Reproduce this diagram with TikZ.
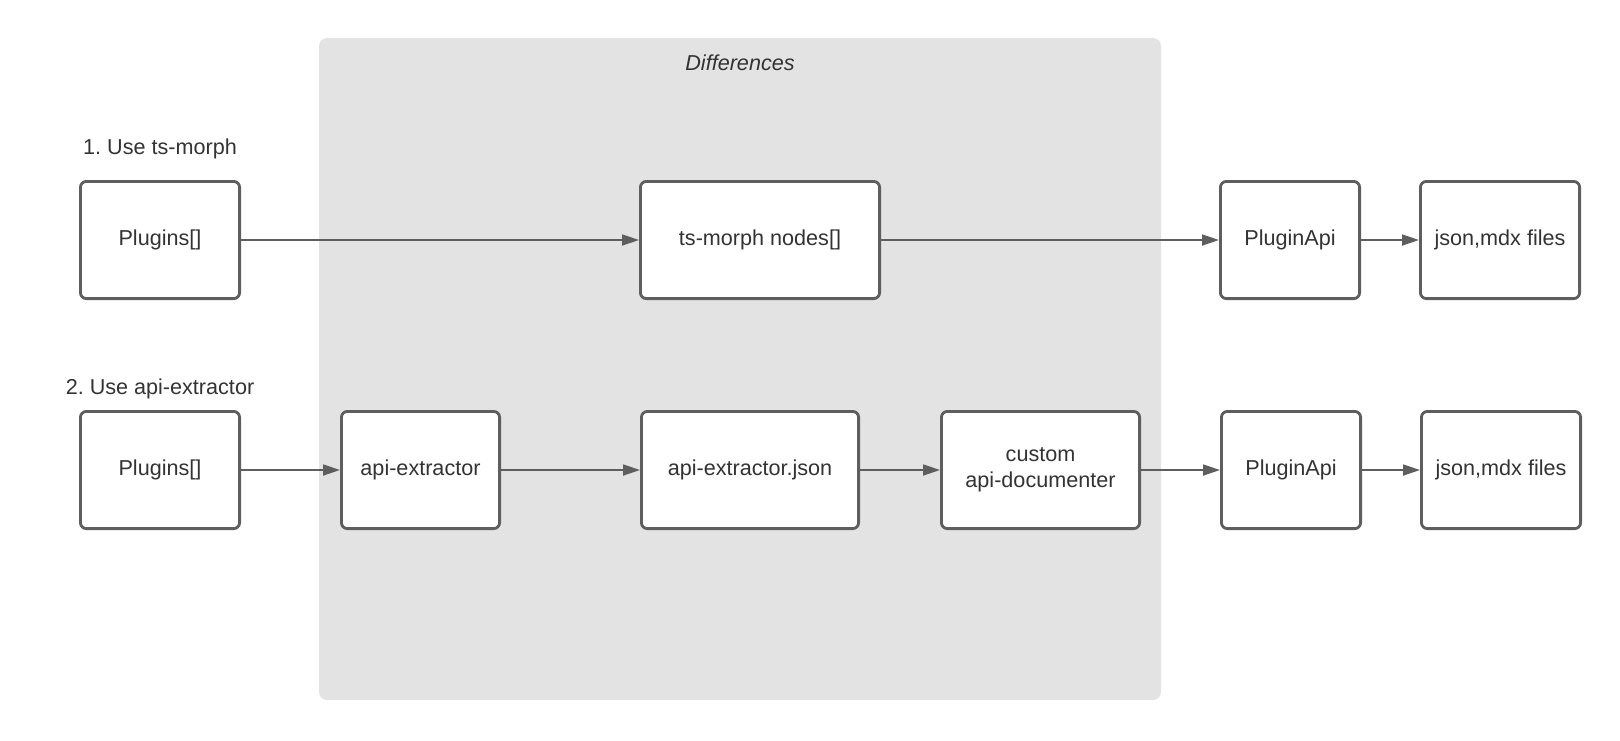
\documentclass[tikz,border=0pt]{standalone}
\usepackage{fontspec}
\setmainfont{Liberation Sans}
\usepackage{tikz}
\usetikzlibrary{arrows.meta,positioning}
\definecolor{BoxLine}{HTML}{5E5E5E}
\definecolor{AreaGray}{HTML}{E3E3E3}
\definecolor{TextDark}{HTML}{333333}
\frenchspacing

\begin{document}
\begin{tikzpicture}[node distance=30pt,>={Triangle[length=8.5pt,width=5.5pt]},font=\fontsize{10.8}{13}\selectfont,text=TextDark]
\tikzstyle{block}=[rectangle,rounded corners=3pt,draw=BoxLine,line width=1.4pt,fill=white,minimum height=58.6pt,align=center,inner sep=2pt]
\tikzstyle{link}=[->,draw=BoxLine,line width=0.9pt]
\useasboundingbox (0,0) rectangle (810pt,-370pt);
% shaded region
\node[rectangle,rounded corners=4pt,fill=AreaGray,minimum width=421pt,minimum height=331pt,inner sep=0pt] (diff) at (370pt,-184.5pt) {};
\node[below=5pt of diff.north,font=\fontsize{10.8}{13}\selectfont\itshape] (difftitle) {Differences};
% first row
\node[block,minimum width=79.6pt] (p1) at (80pt,-120pt) {Plugins[]};
\node[block,minimum width=119.6pt,right=199pt of p1] (tsm) {ts-morph nodes[]};
\node[block,minimum width=69.6pt,right=169pt of tsm] (api1) {PluginApi};
\node[block,minimum width=79.6pt,right=29pt of api1] (out1) {json,mdx files};
\node[above=7pt of p1] (lab1) {1. Use ts-morph};
% second row
\node[block,minimum width=79.6pt] (p2) at (80pt,-235pt) {Plugins[]};
\node[block,minimum width=79.1pt,right=49.5pt of p2] (ext) {api-extractor};
\node[block,minimum width=108.6pt,right=69.5pt of ext] (json) {api-extractor.json};
\node[block,minimum width=99.1pt,right=40pt of json] (doc) {custom\\api-documenter};
\node[block,minimum width=69.6pt,right=39.5pt of doc] (api2) {PluginApi};
\node[block,minimum width=79.6pt,right=29pt of api2] (out2) {json,mdx files};
\node[above=2pt of p2] (lab2) {2. Use api-extractor};
\draw[link] (p1) -- (tsm);
\draw[link] (tsm) -- (api1);
\draw[link] (api1) -- (out1);
\draw[link] (p2) -- (ext);
\draw[link] (ext) -- (json);
\draw[link] (json) -- (doc);
\draw[link] (doc) -- (api2);
\draw[link] (api2) -- (out2);
\end{tikzpicture}
\end{document}
